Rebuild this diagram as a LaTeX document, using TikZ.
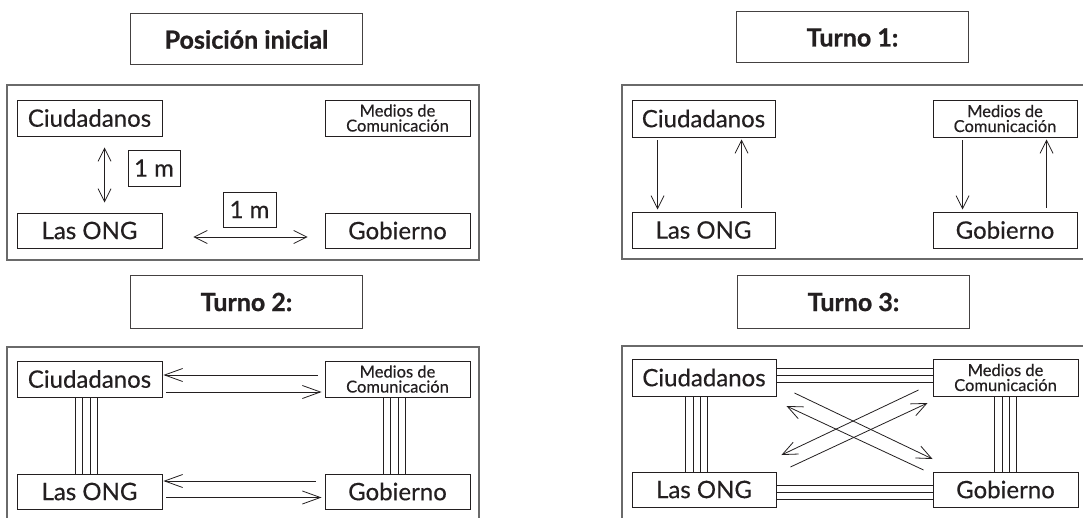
\documentclass[tikz,border=0pt]{standalone}
\usepackage{fontspec}
\setmainfont{Lato}[UprightFeatures={FakeBold=0.35}]
\newfontfamily\heavy{Lato}[BoldFeatures={FakeBold=0.9}]
\usetikzlibrary{arrows.meta}
\definecolor{ink}{HTML}{231F20}
\definecolor{pgray}{HTML}{6A6A6A}
\tikzset{
  bx/.style={draw=ink, line width=0.9pt, inner sep=0pt, font=\fontsize{24}{26}\selectfont, text=ink},
  sm/.style={bx, font=\fontsize{16.5}{15}\selectfont, align=center},
  ttl/.style={draw=ink!85, line width=1pt, inner sep=0pt, font=\heavy\bfseries\fontsize{25}{28}\selectfont, text=ink, minimum width=232pt, minimum height=51pt},
  panel/.style={draw=pgray, line width=1.8pt},
  ln/.style={draw=ink, line width=0.8pt},
  arr/.style={ln, -{Straight Barb[length=13pt,width=13pt,line width=0.8pt]}},
  darr/.style={ln, {Straight Barb[length=13pt,width=13pt,line width=0.8pt]}-{Straight Barb[length=13pt,width=13pt,line width=0.8pt]}},
  larr/.style={ln, -{Straight Barb[length=18pt,width=13pt,line width=0.8pt]}},
  xarr/.style={ln, -{Straight Barb[length=15pt,width=13pt,line width=0.8pt]}},
}
\begin{document}
\begin{tikzpicture}[x=1pt,y=-1pt]
\useasboundingbox (0,0) rectangle (1083,518);
\clip (0,0) rectangle (1083,518);
\fill[white] (0,0) rectangle (1083,518);

% ---------- Panel A: Posicion inicial ----------
\node[ttl] (tA) at (246.5,39.5) {Posición inicial};
\draw[panel] (7,85) rectangle (479,260);
\node[bx, minimum width=145pt, minimum height=36pt] (ciudA) at (89.5,118) {Ciudadanos};
\node[sm, minimum width=145pt, minimum height=36pt] (medA) at (397.5,118) {Medios de\\Comunicación};
\node[bx, minimum width=145pt, minimum height=35pt] (ongA) at (89.5,230.5) {Las ONG};
\node[bx, minimum width=145pt, minimum height=35pt] (gobA) at (397.5,230.5) {Gobierno};
\node[bx, minimum width=52pt, minimum height=36pt] (mA1) at (154,168) {1 m};
\node[bx, minimum width=53pt, minimum height=35pt] (mA2) at (249.5,209.5) {1 m};
\draw[darr] ([xshift=88pt,yshift=-11pt]ciudA.south west) -- ([xshift=88pt,yshift=10pt]ongA.north west);
\draw[darr] ([xshift=31pt,yshift=-6.5pt]ongA.east) -- ([xshift=-17pt,yshift=-6.5pt]gobA.west);

% ---------- Panel B: Turno 1 ----------
\node[ttl] (tB) at (852.5,37.5) {Turno 1:};
\draw[panel] (622,85) rectangle (1100,259);
\node[bx, minimum width=143pt, minimum height=37pt] (ciudB) at (703.5,118.5) {Ciudadanos};
\node[sm, minimum width=144pt, minimum height=37pt] (medB) at (1005,118.5) {Medios de\\Comunicación};
\node[bx, minimum width=143pt, minimum height=36pt] (ongB) at (703.5,230) {Las ONG};
\node[bx, minimum width=144pt, minimum height=36pt] (gobB) at (1005,230) {Gobierno};
\draw[arr] ([xshift=26pt,yshift=-3pt]ciudB.south west) -- ([xshift=26pt,yshift=2pt]ongB.north west);
\draw[arr] ([xshift=110pt,yshift=4pt]ongB.north west) -- ([xshift=110pt,yshift=-2pt]ciudB.south west);
\draw[arr] ([xshift=30pt,yshift=-3pt]medB.south west) -- ([xshift=30pt,yshift=2pt]gobB.north west);
\draw[arr] ([xshift=114pt,yshift=4pt]gobB.north west) -- ([xshift=114pt,yshift=-2pt]medB.south west);

% ---------- Panel C: Turno 2 ----------
\node[ttl, minimum height=52pt] (tC) at (246.5,302) {Turno 2:};
\draw[panel] (7,347) rectangle (479,540);
\node[bx, minimum width=145pt, minimum height=36pt] (ciudC) at (89.5,379) {Ciudadanos};
\node[sm, minimum width=145pt, minimum height=36pt] (medC) at (397.5,379) {Medios de\\Comunicación};
\node[bx, minimum width=145pt, minimum height=35pt] (ongC) at (89.5,491.5) {Las ONG};
\node[bx, minimum width=145pt, minimum height=35pt] (gobC) at (397.5,491.5) {Gobierno};
\draw[larr] ([xshift=-7pt,yshift=4pt]medC.west) -- ([xshift=1pt,yshift=4pt]ciudC.east);
\draw[larr] ([xshift=4pt,yshift=-13pt]ciudC.east) -- ([xshift=-3pt,yshift=-13pt]medC.west);
\draw[larr] ([xshift=-9pt,yshift=10.5pt]gobC.west) -- ([xshift=1pt,yshift=10.5pt]ongC.east);
\draw[larr] ([xshift=4pt,yshift=-6pt]ongC.east) -- ([xshift=-3pt,yshift=-6pt]gobC.west);
\foreach \d in {58.5,66,73.5,81}{
  \draw[ln] ([xshift=\d pt]ciudC.south west) -- ([xshift=\d pt]ongC.north west);
  \draw[ln] ([xshift=\d pt]medC.south west) -- ([xshift=\d pt]gobC.north west);
}

% ---------- Panel D: Turno 3 ----------
\node[ttl, minimum height=52pt] (tD) at (853.5,302) {Turno 3:};
\draw[panel] (622,346) rectangle (1100,540);
\node[bx, minimum width=144pt, minimum height=37pt] (ciudD) at (704,377.5) {Ciudadanos};
\node[sm, minimum width=145pt, minimum height=37pt] (medD) at (1005.5,377.5) {Medios de\\Comunicación};
\node[bx, minimum width=144pt, minimum height=35pt] (ongD) at (704,489.5) {Las ONG};
\node[bx, minimum width=145pt, minimum height=35pt] (gobD) at (1005.5,489.5) {Gobierno};
\foreach \d in {54,61.5,69,76}{
  \draw[ln] ([xshift=\d pt]ciudD.south west) -- ([xshift=\d pt]ongD.north west);
}
\foreach \d in {62,69.5,77,84}{
  \draw[ln] ([xshift=\d pt]medD.south west) -- ([xshift=\d pt]gobD.north west);
}
\foreach \s in {9.5,2.5,-4.5}{
  \draw[ln] ([yshift=\s pt]ciudD.east) -- ([yshift=\s pt]medD.west);
}
\foreach \s in {4.5,-2.5,-9.5}{
  \draw[ln] ([yshift=\s pt]ongD.east) -- ([yshift=\s pt]gobD.west);
}
\draw[xarr] ([xshift=18pt,yshift=-15.5pt]ciudD.east) -- ([yshift=30.5pt]gobD.west);
\draw[xarr] ([xshift=-9pt,yshift=19.5pt]gobD.west) -- ([xshift=10pt,yshift=-28.5pt]ciudD.east);
\draw[xarr] ([xshift=-14pt,yshift=-12.5pt]medD.west) -- ([xshift=5pt,yshift=34.5pt]ongD.east);
\draw[xarr] ([xshift=14pt,yshift=22.5pt]ongD.east) -- ([xshift=-5pt,yshift=-25.5pt]medD.west);
\end{tikzpicture}
\end{document}
